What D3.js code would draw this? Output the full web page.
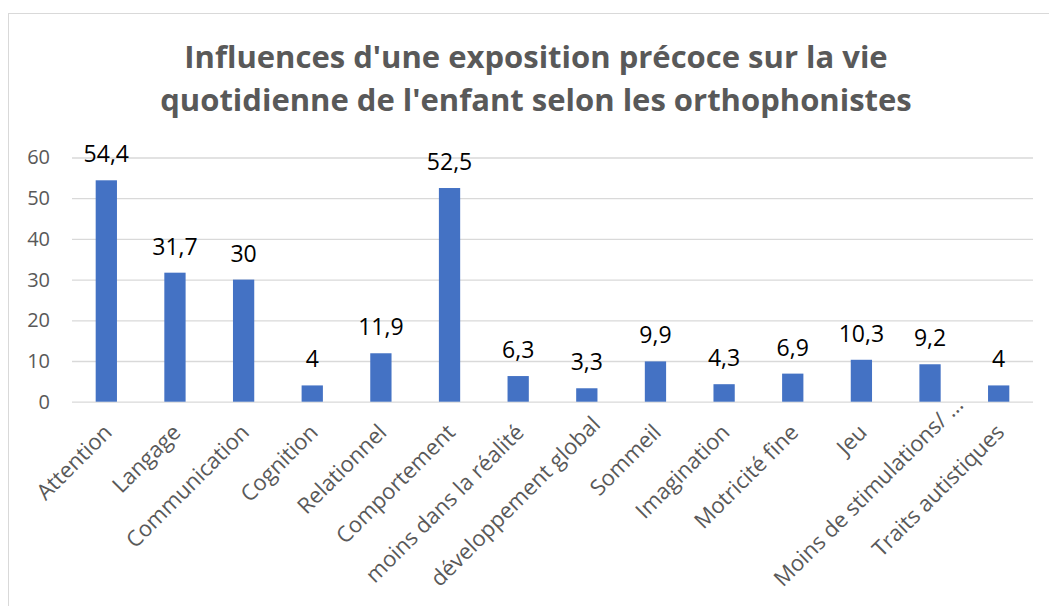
<!DOCTYPE html>
<html>
<head>
<meta charset="utf-8">
<script src="https://cdn.jsdelivr.net/npm/d3@7"></script>
<style>
  body { margin: 0; background: #fff; }
  text { font-family: "Open Sans", sans-serif; }
</style>
</head>
<body>
<svg id="chart"></svg>
<script>
const categories = ["Attention", "Langage", "Communication", "Cognition", "Relationnel",
  "Comportement", "moins dans la réalité", "développement global", "Sommeil",
  "Imagination", "Motricité fine", "Jeu", "Moins de stimulations/ …", "Traits autistiques"]
const values = [54.4, 31.7, 30, 4, 11.9, 52.5, 6.3, 3.3, 9.9, 4.3, 6.9, 10.3, 9.2, 4]
const yTicks = [0, 10, 20, 30, 40, 50, 60]
const titleLines = ["Influences d'une exposition précoce sur la vie",
  "quotidienne de l'enfant selon les orthophonistes"]

const width = 1049
const height = 606
const plot = { left: 72, right: 1033, top: 157.5, bottom: 401.7 }
const labelFloor = 592 // rotated labels are pushed up-right so they stay above this

const svg = d3.select("#chart")
  .attr("width", width)
  .attr("height", height)

// chart frame
svg.append("rect")
  .attr("x", 8.5).attr("y", 13.5)
  .attr("width", 1080).attr("height", 620)
  .attr("fill", "#fff")
  .attr("stroke", "#d9d9d9")

svg.append("g")
  .selectAll("text")
  .data(titleLines)
  .enter().append("text")
  .attr("x", 536)
  .attr("y", (d, i) => 68 + i * 43)
  .attr("text-anchor", "middle")
  .attr("font-size", 31)
  .attr("font-weight", "bold")
  .attr("fill", "#595959")
  .text(d => d)

const x = d3.scaleBand()
  .domain(categories)
  .range([plot.left, plot.right])
  .paddingInner(0.69)
  .paddingOuter(0.345)

const y = d3.scaleLinear()
  .domain([0, 60])
  .range([plot.bottom, plot.top])

// gridlines + y labels
const yAxis = svg.append("g")
  .attr("transform", `translate(${plot.left},0)`)
  .call(d3.axisLeft(y).tickValues(yTicks).tickSize(-(plot.right - plot.left)).tickPadding(22))
yAxis.select(".domain").remove()
yAxis.selectAll(".tick line").attr("stroke", "#d9d9d9").attr("stroke-width", 1.3)
yAxis.selectAll(".tick text")
  .attr("font-size", 20)
  .attr("fill", "#595959")
  .style("font-family", "Open Sans, sans-serif")

svg.append("g")
  .selectAll("rect")
  .data(values)
  .enter().append("rect")
  .attr("x", (d, i) => x(categories[i]))
  .attr("y", d => y(d))
  .attr("width", x.bandwidth())
  .attr("height", d => y(0) - y(d))
  .attr("fill", "#4472c4")

// value labels
svg.append("g")
  .selectAll("text")
  .data(values)
  .enter().append("text")
  .attr("x", (d, i) => x(categories[i]) + x.bandwidth() / 2)
  .attr("y", d => y(d) - 18)
  .attr("text-anchor", "middle")
  .attr("font-size", 23)
  .attr("fill", "#000")
  .text(d => String(d).replace(".", ","))

// category labels, rotated
const catLabels = svg.append("g")
  .selectAll("text")
  .data(categories)
  .enter().append("text")
  .attr("text-anchor", "end")
  .attr("font-size", 22)
  .attr("fill", "#595959")
  .text(d => d)

catLabels.each(function (d) {
  const el = d3.select(this)
  let cx = x(d) + x.bandwidth() / 2 + 7
  let cy = plot.bottom + 32
  el.attr("transform", `translate(${cx},${cy}) rotate(-45)`)
  const over = this.getBoundingClientRect().bottom - labelFloor
  if (over > 0) {
    cx += over
    cy -= over
    el.attr("transform", `translate(${cx},${cy}) rotate(-45)`)
  }
})
</script>
</body>
</html>
